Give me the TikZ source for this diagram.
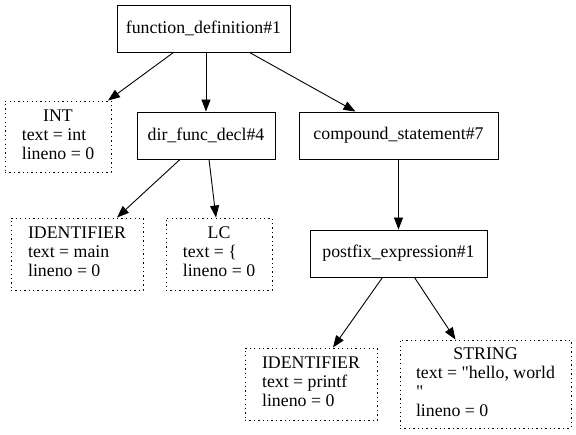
\documentclass[tikz,border=0pt]{standalone}
\usepackage{fontspec}
\setmainfont{Liberation Serif}[Ligatures=TeXOff]
\usetikzlibrary{arrows.meta}
\newcommand{\toklabel}[2]{\begin{tabular}{@{}l@{}}\multicolumn{1}{@{}c@{}}{#1}\\#2\end{tabular}}
\tikzset{
  base/.style={draw=black, line width=0.9pt, inner sep=0pt, align=center,
    font=\fontsize{17.8}{19}\selectfont},
  nt/.style={base, rectangle},
  tok/.style={base, rectangle, dash pattern=on 1.3pt off 3.1pt},
  edge/.style={line width=0.9pt, -{Triangle[length=12pt,width=9pt]}}
}
\begin{document}
\begin{tikzpicture}[x=1pt,y=-1pt]
\useasboundingbox (0,0) rectangle (576,435);
\node[nt, minimum width=173pt, minimum height=47pt] (fd) at (203.5,28.5) {function\_definition\#1};
\node[tok, minimum width=106pt, minimum height=71pt] (int) at (58,136.5) {\toklabel{INT}{text = int\\lineno = 0}};
\node[nt, minimum width=138pt, minimum height=47pt] (dir) at (206,135.5) {dir\_func\_decl\#4};
\node[nt, minimum width=199pt, minimum height=47pt] (comp) at (398.5,135.5) {compound\_statement\#7};
\node[tok, minimum width=132pt, minimum height=72pt] (idm) at (77,254) {\toklabel{IDENTIFIER}{text = main\\lineno = 0}};
\node[tok, minimum width=106pt, minimum height=72pt] (lc) at (219,254) {\toklabel{LC}{text = \{\\lineno = 0}};
\node[nt, minimum width=177pt, minimum height=47pt] (post) at (398.5,253.5) {postfix\_expression\#1};
\node[tok, minimum width=132pt, minimum height=72pt] (idp) at (311,384) {\toklabel{IDENTIFIER}{text = printf\\lineno = 0}};
\node[tok, minimum width=171pt, minimum height=88pt] (str) at (485.5,384) {\toklabel{STRING}{text = "hello, world\\"\\lineno = 0}};
\draw[edge] ([xshift=-30pt]fd.south) -- ([xshift=50pt]int.north);
\draw[edge] ([xshift=2.5pt]fd.south) -- (dir.north);
\draw[edge] ([xshift=46pt]fd.south) -- ([xshift=-43pt]comp.north);
\draw[edge] ([xshift=-26pt]dir.south) -- ([xshift=40pt]idm.north);
\draw[edge] ([xshift=3pt]dir.south) -- ([xshift=-3pt]lc.north);
\draw[edge] (comp.south) -- (post.north);
\draw[edge] ([xshift=-16pt]post.south) -- ([xshift=22pt]idp.north);
\draw[edge] ([xshift=16pt]post.south) -- ([xshift=-30pt]str.north);
\end{tikzpicture}
\end{document}
